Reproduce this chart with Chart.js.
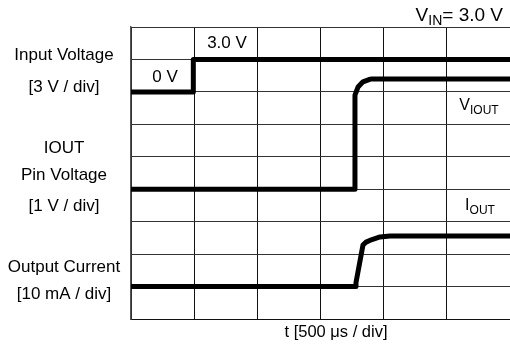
<!DOCTYPE html>
<html>
<head>
<meta charset="utf-8">
<script src="https://cdn.jsdelivr.net/npm/chart.js@4.4.1/dist/chart.umd.min.js"></script>
<style>
  html, body { margin: 0; padding: 0; background: #fff; }
  #wrap { width: 510px; height: 347px; }
</style>
</head>
<body>
<div id="wrap"><canvas id="scope" width="510" height="347"></canvas></div>
<script>
// Time base: 500 µs per horizontal division
const US_PER_DIV = 500;
const TIME_MAX = 2980;

// Input voltage trace (V), 3 V / div, baseline at division 7
const inputTime  = [0, 490, 490, 2980];
const inputVolts = [0, 0, 3.0, 3.0];

// IOUT pin voltage trace (V), 1 V / div, baseline at division 4
const pinTime  = [0, 1761, 1761, 1785, 1824, 1871, 1895, 2980];
const pinVolts = [0, 0, 2.90, 3.15, 3.31, 3.38, 3.40, 3.40];

// Output current trace (mA), 10 mA / div, baseline at division 1
const currTime = [0, 1765, 1769, 1824, 1848, 1895, 1958, 2037, 2980];
const currMa   = [0, 0, 1.2, 12.8, 13.7, 14.5, 15.3, 15.6, 15.6];

// Vertical placement of each channel on the 9-division screen
const channels = [
  { t: inputTime, v: inputVolts, offset: 7, perDiv: 3 },
  { t: pinTime,   v: pinVolts,   offset: 4, perDiv: 1 },
  { t: currTime,  v: currMa,     offset: 1, perDiv: 10 }
];

const FONT = "'Liberation Sans', Arial, Helvetica, sans-serif";

function toDivs(ch) {
  return ch.t.map((t, i) => ({ x: t, y: ch.offset + ch.v[i] / ch.perDiv }));
}

function textWithSub(ctx, main, sub, tail, x, y, size, align) {
  ctx.save();
  ctx.textBaseline = 'alphabetic';
  const subSize = Math.round(size * 0.74);
  ctx.font = size + 'px ' + FONT;
  const wMain = ctx.measureText(main).width;
  ctx.font = subSize + 'px ' + FONT;
  const wSub = ctx.measureText(sub).width;
  ctx.font = size + 'px ' + FONT;
  const wTail = tail ? ctx.measureText(tail).width : 0;
  const total = wMain + wSub + wTail;
  let x0 = x;
  if (align === 'center') x0 = x - total / 2;
  else if (align === 'right') x0 = x - total;
  ctx.textAlign = 'left';
  ctx.fillText(main, x0, y);
  ctx.font = subSize + 'px ' + FONT;
  ctx.fillText(sub, x0 + wMain, y + size * 0.22);
  if (tail) {
    ctx.font = size + 'px ' + FONT;
    ctx.fillText(tail, x0 + wMain + wSub, y);
  }
  ctx.restore();
}

const labelsPlugin = {
  id: 'scopeLabels',
  afterDraw(chart) {
    const ctx = chart.ctx;
    ctx.save();
    ctx.fillStyle = '#000';
    ctx.textAlign = 'center';
    ctx.textBaseline = 'middle';
    ctx.font = '17px ' + FONT;

    // channel names on the left
    const left = [
      ['Input Voltage', 55], ['[3 V / div]', 87],
      ['IOUT', 148], ['Pin Voltage', 175], ['[1 V / div]', 206],
      ['Output Current', 267], ['[10 mA / div]', 294]
    ];
    left.forEach(([s, y]) => ctx.fillText(s, 64, y));

    // level markers on the input trace
    ctx.fillText('3.0 V', 227, 43);
    ctx.fillText('0 V', 165, 77);

    // time base
    ctx.font = '16.5px ' + FONT;
    ctx.fillText('t [500 \u03bcs / div]', 336, 332);
    ctx.restore();

    // trace names and supply condition
    ctx.fillStyle = '#000';
    textWithSub(ctx, 'V', 'IN', '= 3.0 V', 503, 21, 19, 'right');
    textWithSub(ctx, 'V', 'IOUT', '', 479, 110, 16, 'center');
    textWithSub(ctx, 'I', 'OUT', '', 480, 210, 16, 'center');
  }
};

new Chart(document.getElementById('scope'), {
  type: 'line',
  data: {
    datasets: channels.map(ch => ({
      data: toDivs(ch),
      borderColor: '#000',
      borderWidth: 5,
      pointRadius: 0,
      tension: 0,
      fill: false,
      borderJoinStyle: 'round'
    }))
  },
  options: {
    responsive: false,
    animation: false,
    devicePixelRatio: 1,
    layout: { padding: { left: 131, top: 27, right: 0, bottom: 28 } },
    plugins: { legend: { display: false }, tooltip: { enabled: false } },
    scales: {
      x: {
        type: 'linear',
        min: 0,
        max: TIME_MAX,
        ticks: { display: false, stepSize: US_PER_DIV, autoSkip: false },
        grid: { display: true, color: '#111', lineWidth: 1, drawTicks: false, tickLength: 0 },
        border: { display: true, color: '#111', width: 1 }
      },
      y: {
        type: 'linear',
        min: 0,
        max: 9,
        ticks: { display: false, stepSize: 1 },
        grid: { color: '#333', lineWidth: 1, drawTicks: false, tickLength: 0 },
        border: { display: true, color: '#555', width: 1.5 }
      }
    }
  },
  plugins: [labelsPlugin]
});
</script>
</body>
</html>
